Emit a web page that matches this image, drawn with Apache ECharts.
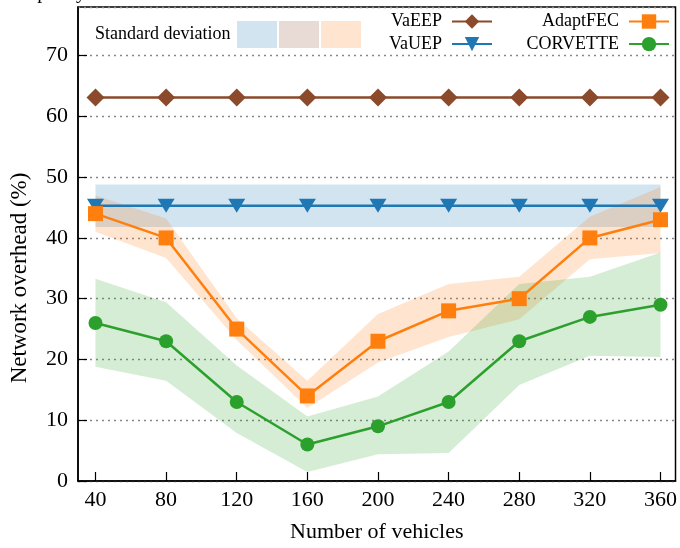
<!DOCTYPE html>
<html>
<head>
<meta charset="utf-8">
<script src="https://cdn.jsdelivr.net/npm/echarts@6/dist/echarts.min.js"></script>
<style>
html,body{margin:0;padding:0;background:#fff;}
#chart{width:680px;height:548px;}
</style>
</head>
<body>
<div id="chart"></div>
<script>
// ---- data ----
const xValues = [40, 80, 120, 160, 200, 240, 280, 320, 360];
const xTickLabels = [40, 80, 120, 160, 200, 240, 280, 320, 360];
const yTickLabels = [0, 10, 20, 30, 40, 50, 60, 70];

const vaeep = [63.1, 63.1, 63.1, 63.1, 63.1, 63.1, 63.1, 63.1, 63.1];
const vauep = [45.3, 45.3, 45.3, 45.3, 45.3, 45.3, 45.3, 45.3, 45.3];
const vauepLow = [41.8, 41.8, 41.8, 41.8, 41.8, 41.8, 41.8, 41.8, 41.8];
const vauepHigh = [48.8, 48.8, 48.8, 48.8, 48.8, 48.8, 48.8, 48.8, 48.8];

const adaptfec = [44, 40, 25, 14, 23, 28, 30, 40, 43];
const adaptfecLow = [41, 36.7, 23.2, 12, 19.5, 23.7, 26.6, 36.5, 37.5];
const adaptfecHigh = [47, 43.2, 26.8, 16.5, 27.5, 32.4, 33.6, 43.5, 48.4];

const corvette = [26, 23, 13, 6, 9, 13, 23, 27, 29];
const corvetteLow = [18.8, 16.5, 7.9, 1.5, 4.4, 4.6, 15.8, 20.6, 20.4];
const corvetteHigh = [33.3, 29.4, 19, 10.6, 13.9, 21.3, 32.4, 33.6, 37.6];

const seriesNames = ['VaEEP', 'VaUEP', 'AdaptFEC', 'CORVETTE'];
const legendLabel = 'Standard deviation';
const topText = 'Capacity';
const xName = 'Number of vehicles';
const yName = 'Network overhead (%)';

// ---- style ----
const FONT = 'Liberation Serif';
const C_BROWN = '#8b4a2b';
const C_BLUE = '#1f77b4';
const C_ORANGE = '#ff7f0e';
const C_GREEN = '#2ca02c';
const BAND_BLUE = 'rgba(31,119,180,0.2)';
const BAND_BROWN = 'rgba(139,74,43,0.2)';
const BAND_ORANGE = 'rgba(255,127,14,0.2)';
const BAND_GREEN = 'rgba(44,160,44,0.2)';

function bandSeries(low, high, color, z) {
  return {
    type: 'custom',
    z: z,
    silent: true,
    data: xValues.map((x, i) => [x, low[i], high[i]]),
    encode: { x: 0, y: [1, 2] },
    renderItem: function (params, api) {
      const i = params.dataIndex;
      if (i >= xValues.length - 1) return null;
      const p1 = api.coord([xValues[i], high[i]]);
      const p2 = api.coord([xValues[i + 1], high[i + 1]]);
      const p3 = api.coord([xValues[i + 1], low[i + 1]]);
      const p4 = api.coord([xValues[i], low[i]]);
      return {
        type: 'polygon',
        shape: { points: [p1, p2, p3, p4] },
        style: { fill: color, stroke: null }
      };
    }
  };
}

function lineSeries(name, values, color, symbol, size, rotate) {
  return {
    name: name,
    type: 'line',
    z: 5,
    data: xValues.map((x, i) => [x, values[i]]),
    symbol: symbol,
    symbolSize: size,
    symbolRotate: rotate || 0,
    showAllSymbol: true,
    itemStyle: { color: color, opacity: 1 },
    lineStyle: { color: color, width: 2.5 },
    emphasis: { disabled: true },
    animation: false
  };
}

const chart = echarts.init(document.getElementById('chart'), null, { renderer: 'canvas' });

const legendCommon = {
  orient: 'vertical',
  align: 'right',
  top: 12.5,
  padding: 0,
  itemWidth: 40,
  itemHeight: 18,
  itemGap: 4.6,
  selectedMode: false,
  textStyle: { fontFamily: FONT, fontSize: 18, color: '#000', padding: [0, 5, 0, 0] }
};

chart.setOption({
  animation: false,
  backgroundColor: '#fff',
  textStyle: { fontFamily: FONT },
  grid: {
    left: 78, right: 2, top: 7, bottom: 63,
    show: true, borderColor: '#000', borderWidth: 1.5, backgroundColor: 'transparent'
  },
  legend: [
    Object.assign({}, legendCommon, { right: 187, data: [seriesNames[0], seriesNames[1]] }),
    Object.assign({}, legendCommon, { right: 10, data: [seriesNames[2], seriesNames[3]] })
  ],
  xAxis: {
    type: 'value',
    min: 30.1,
    max: 368.5,
    name: xName,
    nameLocation: 'middle',
    nameGap: 40,
    nameTextStyle: { fontFamily: FONT, fontSize: 22, color: '#000' },
    axisLine: { show: true, lineStyle: { color: '#000', width: 1.5 } },
    axisTick: { show: true, inside: true, length: 9, customValues: xTickLabels, lineStyle: { color: '#000', width: 1.2 } },
    axisLabel: { customValues: xTickLabels, fontFamily: FONT, fontSize: 22, color: '#000', margin: 8 },
    splitLine: { show: false }
  },
  yAxis: {
    type: 'value',
    min: 0,
    max: 78,
    interval: 10,
    axisLine: { show: true, lineStyle: { color: '#000', width: 1.5 } },
    axisTick: { show: true, inside: true, length: 9, lineStyle: { color: '#000', width: 1.2 } },
    axisLabel: { fontFamily: FONT, fontSize: 22, color: '#000', margin: 10, showMaxLabel: false },
    splitLine: { show: true, lineStyle: { color: '#888', width: 1.3, type: [2, 4] } }
  },
  graphic: [
    {
      type: 'text', x: 15, y: -7,
      style: { text: topText, font: '20px "Liberation Serif"', fill: '#000', verticalAlign: 'middle' }
    },
    {
      type: 'text', x: 20, y: 278, rotation: Math.PI / 2,
      style: { text: yName, font: '23px "Liberation Serif"', fill: '#000', align: 'center', verticalAlign: 'middle' }
    },
    {
      type: 'text', x: 95, y: 34,
      style: { text: legendLabel, font: '18px "Liberation Serif"', fill: '#000', verticalAlign: 'middle' }
    },
    { type: 'rect', shape: { x: 237, y: 21, width: 40, height: 27 }, style: { fill: BAND_BLUE } },
    { type: 'rect', shape: { x: 279, y: 21, width: 40, height: 27 }, style: { fill: BAND_BROWN } },
    { type: 'rect', shape: { x: 321, y: 21, width: 40, height: 27 }, style: { fill: BAND_ORANGE } }
  ],
  series: [
    bandSeries(vauepLow, vauepHigh, BAND_BLUE, 1),
    bandSeries(adaptfecLow, adaptfecHigh, BAND_ORANGE, 1),
    bandSeries(corvetteLow, corvetteHigh, BAND_GREEN, 1),
    lineSeries(seriesNames[0], vaeep, C_BROWN, 'diamond', 18),
    lineSeries(seriesNames[1], vauep, C_BLUE, 'triangle', [17, 14], 180),
    lineSeries(seriesNames[2], adaptfec, C_ORANGE, 'rect', 15),
    lineSeries(seriesNames[3], corvette, C_GREEN, 'circle', 14)
  ]
});
</script>
</body>
</html>
